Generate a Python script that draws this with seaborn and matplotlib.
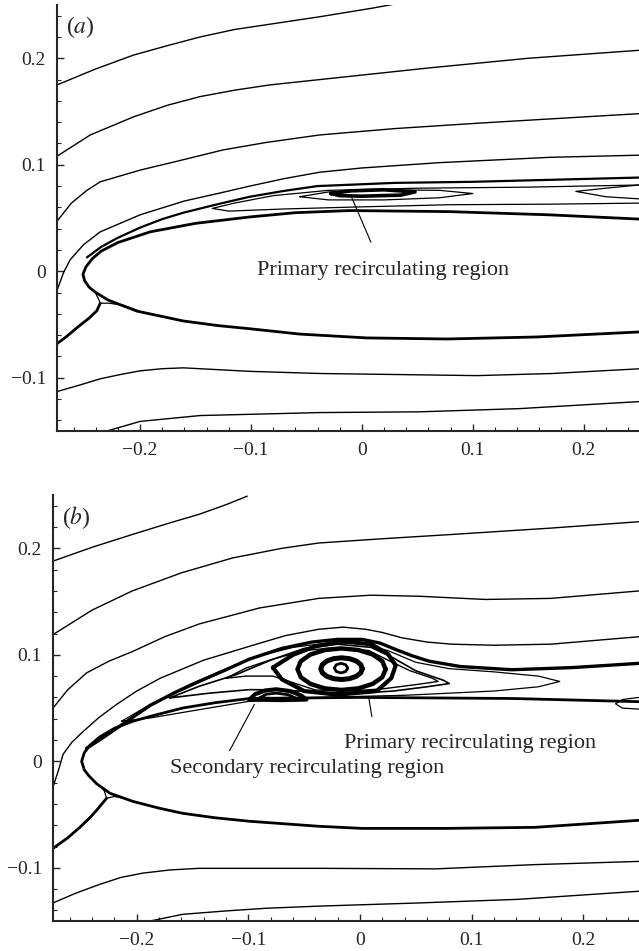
import matplotlib
matplotlib.use("Agg")
import matplotlib.pyplot as plt
import seaborn as sns
from matplotlib.ticker import MultipleLocator

# ---------------- data (x, y) ----------------
# Panel (a)
A_S1 = [(-0.275, 0.175), (-0.24, 0.19), (-0.206, 0.203), (-0.175, 0.212), (-0.146, 0.220), (-0.115, 0.227),
        (-0.083, 0.232), (-0.038, 0.239), (0.009, 0.247), (0.03, 0.251)]
A_S2 = [(-0.275, 0.108), (-0.245, 0.128), (-0.206, 0.145), (-0.175, 0.156), (-0.146, 0.164), (-0.115, 0.170),
        (-0.083, 0.175), (-0.038, 0.180), (0.061, 0.191), (0.15, 0.200), (0.25, 0.2075)]
A_S3 = [(-0.275, 0.047), (-0.262, 0.064), (-0.248, 0.076), (-0.236, 0.084), (-0.2, 0.095), (-0.164, 0.104),
        (-0.125, 0.114), (-0.086, 0.121), (-0.038, 0.128), (0.03, 0.134), (0.104, 0.139), (0.25, 0.148)]
A_S4 = [(-0.275, -0.018), (-0.269, -0.001), (-0.263, 0.011), (-0.251, 0.025), (-0.236, 0.037), (-0.2, 0.053),
        (-0.16, 0.066), (-0.13, 0.073), (-0.101, 0.080), (-0.07, 0.087), (-0.038, 0.093), (0.0, 0.097),
        (0.07, 0.102), (0.17, 0.107), (0.25, 0.109)]
A_SEP = [(-0.248, 0.013), (-0.235, 0.023), (-0.221, 0.031), (-0.2, 0.041), (-0.18, 0.049), (-0.161, 0.055),
         (-0.13, 0.063), (-0.101, 0.070), (-0.07, 0.0755), (-0.04, 0.080), (0.03, 0.083), (0.1, 0.084), (0.25, 0.088)]
A_BODY = [(0.25, 0.049), (0.169, 0.053), (0.079, 0.056), (-0.011, 0.057), (-0.06, 0.055), (-0.101, 0.051),
          (-0.15, 0.045), (-0.191, 0.037), (-0.22, 0.027), (-0.235, 0.019), (-0.243, 0.012), (-0.249, 0.004),
          (-0.2516, -0.003), (-0.250, -0.009), (-0.246, -0.015), (-0.240, -0.020), (-0.229, -0.027),
          (-0.203, -0.0374), (-0.161, -0.0467), (-0.13, -0.051), (-0.101, -0.054), (-0.056, -0.059),
          (0.0045, -0.0626), (0.077, -0.0636), (0.158, -0.0617), (0.25, -0.057)]
A_STAG = [(-0.275, -0.068), (-0.266, -0.061), (-0.257, -0.053), (-0.246, -0.044), (-0.239, -0.037), (-0.236, -0.030)]
A_CUSP_R = [(-0.236, -0.030), (-0.228, -0.030), (-0.215, -0.032), (-0.203, -0.0365)]
A_CUSP_U = [(-0.236, -0.030), (-0.238, -0.025), (-0.241, -0.019)]
A_LOOP1 = [(0.25, 0.081), (0.15, 0.079), (0.05, 0.078), (-0.03, 0.076), (-0.08, 0.071), (-0.115, 0.064),
           (-0.135, 0.059), (-0.12, 0.0565), (-0.07, 0.0585), (0.0, 0.0605), (0.08, 0.0625), (0.17, 0.063), (0.25, 0.064)]
A_LOOP2 = [(-0.056, 0.070), (-0.03, 0.0745), (0.02, 0.0765), (0.07, 0.076), (0.10, 0.073), (0.07, 0.069),
           (0.02, 0.067), (-0.03, 0.067), (-0.056, 0.070)]
A_CORE = [(-0.028, 0.073), (-0.01, 0.0755), (0.02, 0.0765), (0.048, 0.0745), (0.035, 0.0715), (0.0, 0.0705),
          (-0.02, 0.071), (-0.028, 0.073)]
A_LOOP3 = [(0.25, 0.081), (0.22, 0.078), (0.193, 0.075), (0.22, 0.070), (0.25, 0.068)]
A_L1 = [(-0.275, -0.113), (-0.255, -0.107), (-0.236, -0.101), (-0.218, -0.097), (-0.2, -0.0935), (-0.18, -0.0915),
        (-0.161, -0.0907), (-0.101, -0.094), (-0.038, -0.096), (0.104, -0.098), (0.172, -0.096), (0.25, -0.0916)]
A_L2 = [(-0.23, -0.15), (-0.2, -0.141), (-0.146, -0.1355), (-0.038, -0.1327), (0.052, -0.132), (0.142, -0.129), (0.25, -0.1224)]

# Panel (b)
B_S1 = [(-0.275, 0.188), (-0.24, 0.201), (-0.204, 0.213), (-0.17, 0.224), (-0.144, 0.232), (-0.12, 0.241), (-0.101, 0.249)]
B_S2 = [(-0.275, 0.119), (-0.24, 0.142), (-0.204, 0.160), (-0.16, 0.177), (-0.114, 0.191), (-0.07, 0.200),
        (-0.037, 0.205), (0.02, 0.209), (0.082, 0.213), (0.171, 0.219), (0.25, 0.225)]
B_S3 = [(-0.275, 0.050), (-0.262, 0.067), (-0.245, 0.083), (-0.225, 0.094), (-0.204, 0.103), (-0.175, 0.117),
        (-0.144, 0.129), (-0.09, 0.144), (-0.037, 0.153), (0.01, 0.156), (0.053, 0.155), (0.1125, 0.152),
        (0.171, 0.153), (0.25, 0.160)]
B_S4 = [(-0.275, -0.024), (-0.270, -0.008), (-0.266, 0.0066), (-0.258, 0.018), (-0.248, 0.028), (-0.234, 0.041),
        (-0.218, 0.0535), (-0.2, 0.066), (-0.179, 0.078), (-0.14, 0.095), (-0.099, 0.108), (-0.067, 0.118),
        (-0.037, 0.124), (-0.015, 0.126), (0.005, 0.124), (0.02, 0.121), (0.0375, 0.116), (0.06, 0.112),
        (0.082, 0.110), (0.12, 0.109), (0.171, 0.110), (0.25, 0.117)]
B_SEP = [(-0.245, 0.0122), (-0.232, 0.021), (-0.218, 0.031), (-0.188, 0.0525), (-0.165, 0.065), (-0.144, 0.075),
         (-0.12, 0.086), (-0.099, 0.096), (-0.07, 0.106), (-0.043, 0.112), (-0.02, 0.1145), (0.002, 0.1145),
         (0.018, 0.111), (0.032, 0.105), (0.047, 0.099), (0.062, 0.094), (0.09, 0.089), (0.136, 0.086),
         (0.19, 0.088), (0.25, 0.092)]
B_BODY = [(0.25, 0.056), (0.136, 0.059), (0.0, 0.060), (-0.099, 0.059), (-0.13, 0.055), (-0.159, 0.050),
          (-0.185, 0.043), (-0.2036, 0.0376), (-0.22, 0.031), (-0.233, 0.023), (-0.242, 0.015), (-0.247, 0.008),
          (-0.2494, 0.0), (-0.247, -0.008), (-0.243, -0.0135), (-0.236, -0.021), (-0.224, -0.030),
          (-0.2036, -0.0376), (-0.18, -0.044), (-0.159, -0.0488), (-0.13, -0.053), (-0.099, -0.0563),
          (-0.037, -0.061), (0.002, -0.063), (0.077, -0.063), (0.157, -0.062), (0.25, -0.0554)]
B_STAG = [(-0.275, -0.0817), (-0.262, -0.072), (-0.251, -0.062), (-0.242, -0.053), (-0.236, -0.046), (-0.227, -0.0347)]
B_CUSP_R = [(-0.227, -0.0347), (-0.22, -0.033), (-0.21, -0.035), (-0.2036, -0.0376)]
B_CUSP_U = [(-0.227, -0.0347), (-0.229, -0.028), (-0.232, -0.024)]
B_LOOPA = [(-0.2137, 0.0376), (-0.188, 0.0533), (-0.153, 0.072), (-0.12, 0.087), (-0.09, 0.099), (-0.06, 0.107),
           (-0.03, 0.111), (0.0, 0.111), (0.025, 0.104), (0.05, 0.093), (0.08, 0.087), (0.12, 0.084), (0.16, 0.080),
           (0.179, 0.075), (0.16, 0.070), (0.12, 0.066), (0.08, 0.064), (0.04, 0.062), (0.0, 0.061), (-0.04, 0.060),
           (-0.099, 0.0564), (-0.144, 0.0485), (-0.188, 0.0407), (-0.2137, 0.0376)]
B_LOOPB = [(-0.1706, 0.0595), (-0.144, 0.0705), (-0.111, 0.0814), (-0.08, 0.095), (-0.05, 0.106), (-0.02, 0.110),
           (0.01, 0.107), (0.03, 0.097), (0.05, 0.085), (0.075, 0.076), (0.08, 0.073), (0.06, 0.070), (0.03, 0.066),
           (0.0, 0.064), (-0.04, 0.065), (-0.07, 0.067), (-0.099, 0.0673), (-0.135, 0.064), (-0.1706, 0.0595)]
B_LOOPC = [(-0.12, 0.078), (-0.102, 0.0876), (-0.078, 0.096), (-0.05, 0.104), (-0.02, 0.107), (0.008, 0.104),
           (0.025, 0.095), (0.045, 0.085), (0.065, 0.078), (0.07, 0.075), (0.05, 0.072), (0.02, 0.068), (-0.01, 0.066),
           (-0.04, 0.067), (-0.078, 0.080), (-0.102, 0.080), (-0.12, 0.078)]
B_RING4 = [(-0.078, 0.088), (-0.06, 0.100), (-0.04, 0.108), (-0.015, 0.1125), (0.01, 0.110), (0.025, 0.101),
           (0.032, 0.090), (0.028, 0.078), (0.015, 0.066), (-0.02, 0.0625), (-0.05, 0.066), (-0.07, 0.077), (-0.078, 0.088)]
B_RING3 = [(0.023, 0.0865), (0.0200, 0.0940), (0.0114, 0.1003), (-0.0014, 0.1045), (-0.0165, 0.106),
           (-0.0316, 0.1045), (-0.0444, 0.1003), (-0.0530, 0.0940), (-0.056, 0.0865), (-0.0530, 0.0790),
           (-0.0444, 0.0727), (-0.0316, 0.0685), (-0.0165, 0.067), (-0.0014, 0.0685), (0.0114, 0.0727),
           (0.0200, 0.0790), (0.023, 0.0865)]
B_RING2 = [(0.0021, 0.087), (0.0007, 0.0909), (-0.0033, 0.0942), (-0.0094, 0.0964), (-0.0165, 0.0972),
           (-0.0236, 0.0964), (-0.0297, 0.0942), (-0.0337, 0.0909), (-0.0351, 0.087), (-0.0337, 0.0831),
           (-0.0297, 0.0798), (-0.0236, 0.0776), (-0.0165, 0.0768), (-0.0094, 0.0776), (-0.0033, 0.0798),
           (0.0007, 0.0831), (0.0021, 0.087)]
B_RING1 = [(-0.011, 0.0875), (-0.0128, 0.0907), (-0.017, 0.092), (-0.0212, 0.0907), (-0.023, 0.0875), (-0.0212, 0.0843),
           (-0.017, 0.083), (-0.0128, 0.0843), (-0.011, 0.0875)]
B_SEC = [(-0.099, 0.058), (-0.094, 0.063), (-0.085, 0.0665), (-0.075, 0.0676), (-0.063, 0.066), (-0.053, 0.062),
         (-0.048, 0.058), (-0.07, 0.0575), (-0.099, 0.058)]
B_SEC_IN = [(-0.09, 0.0595), (-0.084, 0.063), (-0.075, 0.064), (-0.064, 0.0625), (-0.058, 0.0595), (-0.075, 0.059), (-0.09, 0.0595)]
B_LOOPR = [(0.25, 0.060), (0.235, 0.058), (0.229, 0.054), (0.235, 0.050), (0.25, 0.049)]
B_L1 = [(-0.275, -0.133), (-0.255, -0.124), (-0.233, -0.1155), (-0.214, -0.109), (-0.1946, -0.105), (-0.17, -0.102),
        (-0.144, -0.1005), (-0.037, -0.1005), (0.068, -0.101), (0.157, -0.097), (0.25, -0.094)]
B_L2 = [(-0.188, -0.150), (-0.159, -0.1437), (-0.12, -0.1405), (-0.084, -0.138), (-0.037, -0.136), (0.053, -0.133),
        (0.142, -0.1296), (0.25, -0.122)]

X_TICKS = [-0.2, -0.1, 0, 0.1, 0.2]
X_TICK_LABELS = ["\u22120.2", "\u22120.1", "0", "0.1", "0.2"]
Y_TICKS = [-0.1, 0, 0.1, 0.2]
Y_TICK_LABELS = ["\u22120.1", "0", "0.1", "0.2"]

# ---------------- drawing ----------------
sns.set_theme(style="ticks")
plt.rcParams["font.family"] = ["Liberation Serif", "DejaVu Serif"]
plt.rcParams["mathtext.fontset"] = "stix"
plt.rcParams["lines.solid_joinstyle"] = "round"
plt.rcParams["lines.solid_capstyle"] = "round"

fig = plt.figure(figsize=(6.39, 9.51), dpi=100)
ax_a = fig.add_axes([0.0892, 0.5468, 0.9108, 0.4479])
ax_b = fig.add_axes([0.083, 0.0315, 0.917, 0.4479])


def draw(ax, pts, lw=1.0):
    xs = [p[0] for p in pts]
    ys = [p[1] for p in pts]
    sns.lineplot(x=xs, y=ys, sort=False, estimator=None, ax=ax, color="black",
                 linewidth=lw, legend=False)


for pts, lw in [(A_S1, 1.0), (A_S2, 1.0), (A_S3, 1.0), (A_S4, 1.0), (A_SEP, 1.6), (A_BODY, 2.0),
                (A_STAG, 2.0), (A_CUSP_R, 0.9), (A_CUSP_U, 0.9), (A_LOOP1, 0.9), (A_LOOP2, 0.9),
                (A_CORE, 2.6), (A_LOOP3, 0.9), (A_L1, 1.0), (A_L2, 1.0)]:
    draw(ax_a, pts, lw)

for pts, lw in [(B_S1, 1.0), (B_S2, 1.0), (B_S3, 1.0), (B_S4, 1.0), (B_SEP, 2.4), (B_BODY, 2.0),
                (B_STAG, 2.0), (B_CUSP_R, 0.9), (B_CUSP_U, 0.9), (B_LOOPA, 0.9), (B_LOOPB, 1.2),
                (B_LOOPC, 1.0), (B_RING4, 3.0), (B_RING3, 3.2), (B_RING2, 3.6), (B_RING1, 2.0),
                (B_SEC, 3.0), (B_SEC_IN, 2.0), (B_LOOPR, 0.9), (B_L1, 1.0), (B_L2, 1.0)]:
    draw(ax_b, pts, lw)

for ax, lab in [(ax_a, "($a$)"), (ax_b, "($b$)")]:
    ax.set_xlim(-0.275, 0.25)
    ax.set_ylim(-0.15, 0.25)
    ax.set_xticks(X_TICKS)
    ax.set_xticklabels(X_TICK_LABELS)
    ax.set_yticks(Y_TICKS)
    ax.set_yticklabels(Y_TICK_LABELS)
    ax.xaxis.set_minor_locator(MultipleLocator(0.02))
    ax.yaxis.set_minor_locator(MultipleLocator(0.02))
    ax.tick_params(which="major", direction="in", length=5, width=1.0, labelsize=14, pad=8)
    ax.tick_params(which="minor", direction="in", length=3, width=0.8)
    for s in ["top", "right"]:
        ax.spines[s].set_visible(False)
    for s in ["left", "bottom"]:
        ax.spines[s].set_linewidth(1.5)
    ax.set_xlabel("")
    ax.set_ylabel("")
    ax.text(-0.254, 0.229, lab, fontsize=17, va="center", ha="center")

ax_a.annotate("Primary recirculating region", xy=(-0.009, 0.069), xytext=(0.019, 0.001),
              fontsize=16, ha="center", va="center",
              arrowprops=dict(arrowstyle="-", color="black", lw=0.8, shrinkA=12, shrinkB=0))
ax_b.annotate("Primary recirculating region", xy=(0.008, 0.059), xytext=(0.099, 0.017),
              fontsize=16, ha="center", va="center",
              arrowprops=dict(arrowstyle="-", color="black", lw=0.8, shrinkA=10, shrinkB=0,
                              relpos=(0.12, 1.0)))
ax_b.annotate("Secondary recirculating region", xy=(-0.0946, 0.0535), xytext=(-0.047, -0.0066),
              fontsize=16, ha="center", va="center",
              arrowprops=dict(arrowstyle="-", color="black", lw=0.8, shrinkA=4, shrinkB=0,
                              relpos=(0.2, 1.0)))

fig.savefig("out.png", dpi=100)
